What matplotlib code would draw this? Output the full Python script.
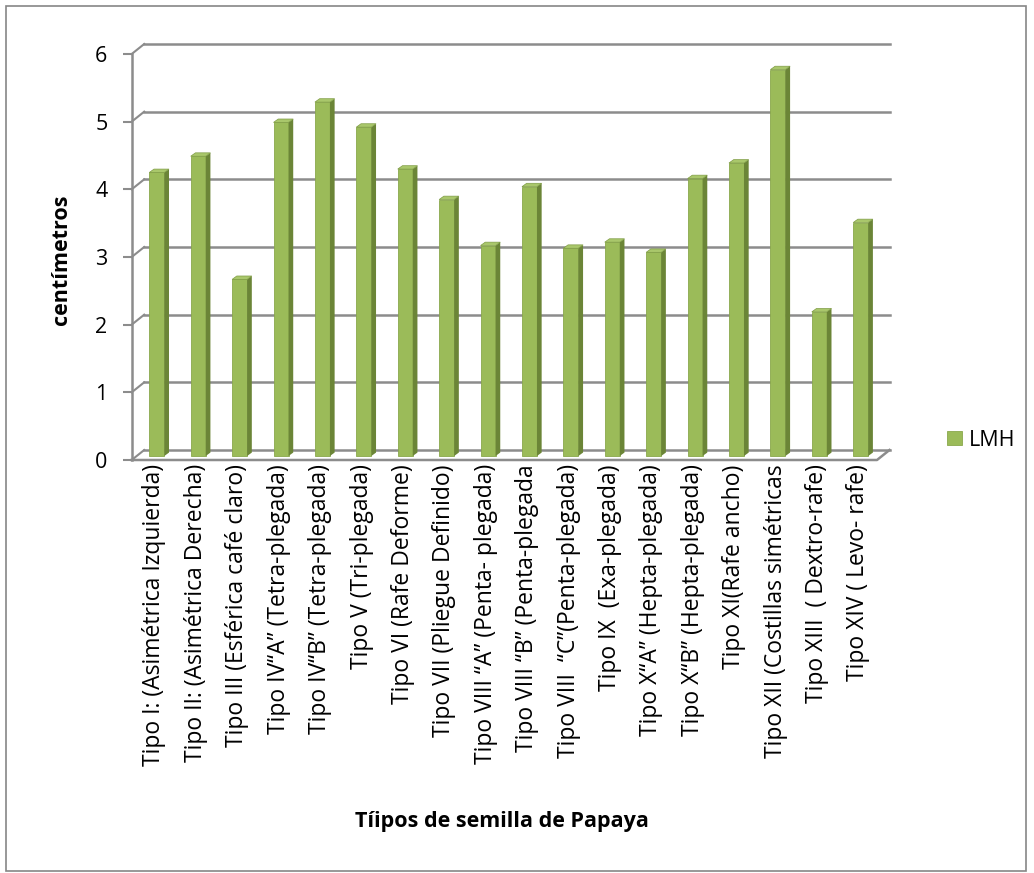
import numpy as np
import matplotlib
matplotlib.use('Agg')
import matplotlib.pyplot as plt
from matplotlib.patches import Polygon, Rectangle
from matplotlib.lines import Line2D

plt.rcParams['font.family'] = ['Open Sans', 'DejaVu Sans']

# Seed type categories and LMH measurements (cm)
tipos = [
    'Tipo I: (Asimétrica Izquierda)',
    'Tipo II: (Asimétrica Derecha)',
    'Tipo III (Esférica café claro)',
    'Tipo IV“A” (Tetra-plegada)',
    'Tipo IV“B” (Tetra-plegada)',
    'Tipo V (Tri-plegada)',
    'Tipo VI (Rafe Deforme)',
    'Tipo VII (Pliegue Definido)',
    'Tipo VIII “A” (Penta- plegada)',
    'Tipo VIII “B” (Penta-plegada',
    'Tipo VIII  “C”(Penta-plegada)',
    'Tipo IX  (Exa-plegada)',
    'Tipo X“A” (Hepta-plegada)',
    'Tipo X“B” (Hepta-plegada)',
    'Tipo XI(Rafe ancho)',
    'Tipo XII (Costillas simétricas',
    'Tipo XIII  ( Dextro-rafe)',
    'Tipo XIV ( Levo- rafe)',
]
lmh = [4.19, 4.43, 2.61, 4.93, 5.23, 4.86, 4.24, 3.79, 3.11,
       3.98, 3.07, 3.16, 3.01, 4.10, 4.33, 5.71, 2.13, 3.45]
yticks = [0, 1, 2, 3, 4, 5, 6]

W, H = 1034, 873
fig = plt.figure(figsize=(W / 100, H / 100), dpi=100)

# front plane of the plot area, in pixels
x0, x1, ytop, ybot = 131.7, 877.0, 54.0, 460.0
ax = fig.add_axes([x0 / W, 1 - ybot / H, (x1 - x0) / W, (ybot - ytop) / H])
n = len(tipos)
ax.set_xlim(0, n)
ax.set_ylim(0, 6)
px_x = (x1 - x0) / n
px_y = (ybot - ytop) / 6

# depth offsets (pixels -> data units)
dx, dy = 12.5 / px_x, 10.0 / px_y
grid_c = '#8c8c8c'
for v in yticks:
    ax.add_line(Line2D([dx, n + dx], [v + dy, v + dy], color=grid_c, lw=1.8,
                       clip_on=False, zorder=1))
    ax.add_line(Line2D([0, dx], [v, v + dy], color=grid_c, lw=1.5,
                       clip_on=False, zorder=1))
# floor and front axis
ax.add_line(Line2D([0, n, n + dx], [0, 0, dy], color=grid_c, lw=1.8,
                   clip_on=False, zorder=1))
ax.add_line(Line2D([0, 0], [0, 6], color=grid_c, lw=1.8, clip_on=False, zorder=1))

# 3D-style columns
centers = np.arange(n) + 0.5
ox, oy = 4.4 / px_x, 4.0 / px_y
bw = 15.0 / px_x
sx, sy = 4.7 / px_x, 3.4 / px_y
front_c, side_c, top_c = '#9bbb59', '#6b8537', '#a9c76b'
bars = ax.bar(centers + ox, lmh, width=bw, bottom=oy, color=front_c,
              edgecolor='#8aa84c', linewidth=0.6, zorder=3, label='LMH')
for c, v in zip(centers, lmh):
    xl, xr = c + ox - bw / 2, c + ox + bw / 2
    yb, yt = oy, oy + v
    ax.add_patch(Polygon([(xr, yb), (xr + sx, yb + sy), (xr + sx, yt + sy), (xr, yt)],
                         closed=True, facecolor=side_c, edgecolor='none', zorder=3))
    ax.add_patch(Polygon([(xl, yt), (xl + sx, yt + sy), (xr + sx, yt + sy), (xr, yt)],
                         closed=True, facecolor=top_c, edgecolor='#7f9c45',
                         linewidth=0.5, zorder=4))

for s in ax.spines.values():
    s.set_visible(False)
ax.set_yticks(yticks)
ax.tick_params(axis='y', length=6.5, width=1.5, color=grid_c, pad=11,
               labelsize=15.5, labelcolor='black')
ax.set_xticks(centers + 0.05)
ax.set_xticklabels(tipos, rotation=90, va='top', ha='center')
ax.tick_params(axis='x', length=0, pad=3, labelsize=16.5, labelcolor='black')

fig.text(62 / W, 1 - 260 / H, 'centímetros', rotation=90, ha='center', va='center',
         fontsize=15.5, fontweight='bold')
fig.text(502 / W, 1 - 822 / H, 'Tíipos de semilla de Papaya', ha='center',
         va='center', fontsize=15.5, fontweight='bold')

fig.legend(handles=[bars], loc='center left', bbox_to_anchor=(947 / W, 1 - 440 / H),
           frameon=False, fontsize=15.5, handlelength=0.68, handleheight=0.68,
           handletextpad=0.35, borderpad=0, borderaxespad=0)

# chart border
fig.add_artist(Rectangle((5.5 / W, 2.5 / H), 1020 / W, 865 / H, transform=fig.transFigure,
                         fill=False, edgecolor='#868686', linewidth=1.2))

fig.savefig('out.png', dpi=100)
